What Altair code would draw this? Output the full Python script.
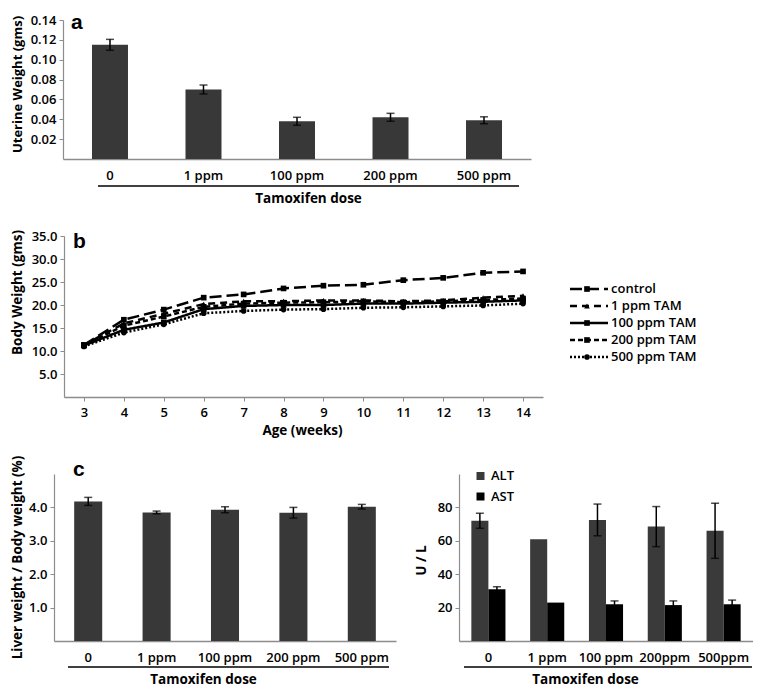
import altair as alt
import pandas as pd

# ---------------- data ----------------
doses = ["0", "1 ppm", "100 ppm", "200 ppm", "500 ppm"]
uterine_weight = [0.115, 0.070, 0.038, 0.042, 0.039]
uterine_err = [0.0055, 0.0045, 0.004, 0.004, 0.0035]

weeks = [3, 4, 5, 6, 7, 8, 9, 10, 11, 12, 13, 14]
series_names = ["control", "1 ppm TAM", "100 ppm TAM", "200 ppm TAM", "500 ppm TAM"]
bw_control = [11.3, 16.8, 19.0, 21.6, 22.3, 23.6, 24.2, 24.4, 25.4, 25.9, 27.0, 27.3]
bw_1ppm = [11.3, 16.0, 18.1, 20.2, 20.8, 20.8, 21.0, 21.0, 20.8, 21.0, 21.6, 22.0]
bw_100ppm = [11.2, 14.6, 16.2, 19.1, 19.8, 20.0, 20.0, 20.3, 20.3, 20.5, 20.7, 21.0]
bw_200ppm = [11.3, 15.5, 17.5, 19.6, 20.3, 20.5, 20.6, 20.8, 20.6, 20.8, 21.1, 21.4]
bw_500ppm = [11.0, 14.0, 15.8, 18.2, 18.7, 19.0, 19.1, 19.4, 19.5, 19.7, 19.9, 20.3]
bw_series = [bw_control, bw_1ppm, bw_100ppm, bw_200ppm, bw_500ppm]

liver_ratio = [4.18, 3.85, 3.93, 3.84, 4.02]
liver_err = [0.12, 0.04, 0.09, 0.16, 0.07]

doses_enzyme = ["0", "1 ppm", "100 ppm", "200ppm", "500ppm"]
enzymes = ["ALT", "AST"]
alt_values = [72, 61, 72.5, 68.5, 66]
alt_err = [4.5, 0, 9.5, 12, 16.5]
ast_values = [31, 23, 22, 21.5, 22]
ast_err = [1.5, 0, 2, 2.5, 2.5]

# ---------------- style ----------------
FONT = "Open Sans"
LABEL_SIZE = 13
TITLE_SIZE = 13.5
AXIS_GRAY = "#8c8c8c"
BAR = "#383838"


def y_axis(values, fmt, title, offset, title_x, title_y, title_size=TITLE_SIZE):
    return alt.Axis(values=values, format=fmt, title=title, offset=offset, grid=False,
                    domainColor=AXIS_GRAY, domainWidth=1.2, tickColor=AXIS_GRAY, tickSize=4,
                    labelPadding=3, labelFontSize=LABEL_SIZE, labelFontWeight=600,
                    labelColor="black", labelOverlap=False,
                    titleFontSize=title_size, titleFontWeight="bold", titleColor="black",
                    titleAngle=270, titleBaseline="bottom", titleAlign="center",
                    titleX=title_x, titleY=title_y)


def x_band_axis(title, title_x, title_y, label_padding):
    return alt.Axis(title=title, labelAngle=0, ticks=False, tickSize=0, grid=False,
                    domainColor=AXIS_GRAY, domainWidth=1.5, labelPadding=label_padding,
                    labelFontSize=LABEL_SIZE, labelFontWeight=600, labelColor="black",
                    labelOverlap=False,
                    titleFontSize=TITLE_SIZE, titleFontWeight="bold", titleColor="black",
                    titleX=title_x, titleY=title_y, titleBaseline="middle", titleAlign="center")


def panel_label(letter, x, y):
    return alt.Chart(pd.DataFrame({"t": [letter]})).mark_text(
        font="Liberation Sans", fontSize=21, fontWeight="bold", align="left",
        baseline="alphabetic", color="black").encode(
        text="t:N", x=alt.value(x), y=alt.value(y))


def group_rule(x1, x2, y):
    return alt.Chart(pd.DataFrame({"k": [0]})).mark_rule(color="black", strokeWidth=1.3).encode(
        x=alt.value(x1), x2=alt.value(x2), y=alt.value(y))


# ---------------- panel a ----------------
A_W, A_H = 477, 139
dfA = pd.DataFrame({"dose": doses, "value": uterine_weight, "err": uterine_err})
dfA["lo"] = dfA["value"] - dfA["err"]
dfA["hi"] = dfA["value"] + dfA["err"]
xA_scale = alt.Scale(domain=doses, range=[9, 477], paddingInner=0.615, paddingOuter=0.31)
yA_scale = alt.Scale(domain=[0, 0.14], nice=False)
xA_axis = x_band_axis("Tamoxifen dose", 254, 39, 10)
yA_axis = y_axis([0.02, 0.04, 0.06, 0.08, 0.10, 0.12, 0.14], ".2f",
                 "Uterine Weight (gms)", -9, -39, 64, title_size=13)

barsA = alt.Chart(dfA).mark_bar(color=BAR).encode(
    x=alt.X("dose:N", sort=doses, scale=xA_scale, axis=xA_axis),
    y=alt.Y("value:Q", scale=yA_scale, axis=yA_axis))
errA = alt.Chart(dfA).mark_rule(color="black", strokeWidth=1.5).encode(
    x=alt.X("dose:N", sort=doses, scale=xA_scale, axis=xA_axis),
    y=alt.Y("lo:Q", scale=yA_scale, axis=yA_axis), y2="hi:Q")
capsA = alt.Chart(dfA).transform_fold(["lo", "hi"], as_=["end", "v"]).mark_tick(
    color="black", thickness=1.5, size=8, orient="horizontal").encode(
    x=alt.X("dose:N", sort=doses, scale=xA_scale, axis=xA_axis),
    y=alt.Y("v:Q", scale=yA_scale, axis=yA_axis))
panelA = alt.layer(barsA, errA, capsA, panel_label("a", 17, 9),
                   group_rule(44, 465, A_H + 27)).properties(width=A_W, height=A_H)

# ---------------- panel b ----------------
B_W, B_H = 489, 161
rows = []
for name, vals in zip(series_names, bw_series):
    for w, v in zip(weeks, vals):
        rows.append({"week": w, "series": name, "bw": v})
dfB = pd.DataFrame(rows)
dfL = pd.DataFrame({"series": series_names})

dash_scale = alt.Scale(domain=series_names, range=[[12, 5], [7, 5], [1, 0], [5, 3], [2, 2]])
shape_scale = alt.Scale(domain=series_names,
                        range=["square", "triangle-up", "square", "square", "circle"])
xB_scale = alt.Scale(domain=[2.5, 14.5], range=[10, 489], nice=False, zero=False)
yB_scale = alt.Scale(domain=[0, 35], nice=False)
xB_axis = alt.Axis(values=weeks, format="d", title="Age (weeks)", grid=False,
                   domainColor=AXIS_GRAY, domainWidth=1.5, tickColor=AXIS_GRAY, tickSize=4,
                   labelPadding=5, labelFontSize=LABEL_SIZE, labelFontWeight=600,
                   labelColor="black", labelOverlap=False,
                   titleFontSize=TITLE_SIZE, titleFontWeight="bold", titleColor="black",
                   titleX=248, titleY=33, titleBaseline="middle", titleAlign="center")

linesB = alt.Chart(dfB).mark_line(color="black", strokeWidth=2.5).encode(
    x=alt.X("week:Q", scale=xB_scale, axis=xB_axis),
    y=alt.Y("bw:Q", scale=yB_scale,
            axis=y_axis([5, 10, 15, 20, 25, 30, 35], ".1f", "Body Weight (gms)", -10, -39.5, 56)),
    strokeDash=alt.StrokeDash("series:N", scale=dash_scale, legend=None),
    detail="series:N")
ptsB = alt.Chart(dfB).mark_point(filled=True, color="black", opacity=1, size=32).encode(
    x=alt.X("week:Q", scale=xB_scale, axis=xB_axis),
    y=alt.Y("bw:Q", scale=yB_scale, axis=None),
    shape=alt.Shape("series:N", scale=shape_scale, legend=None))

yL = alt.Y("series:N", sort=series_names,
           scale=alt.Scale(type="point", domain=series_names, range=[53, 121], padding=0),
           axis=None)
legRule = alt.Chart(dfL).mark_rule(color="black", strokeWidth=2.5).encode(
    x=alt.value(516), x2=alt.value(554), y=yL,
    strokeDash=alt.StrokeDash("series:N", scale=dash_scale, legend=None))
legPt = alt.Chart(dfL).mark_point(filled=True, color="black", opacity=1, size=32).encode(
    x=alt.value(533), y=yL, shape=alt.Shape("series:N", scale=shape_scale, legend=None))
legTxt = alt.Chart(dfL).mark_text(align="left", baseline="middle", fontSize=13,
                                  fontWeight=600, color="black", font=FONT).encode(
    x=alt.value(557), y=yL, text="series:N")

panelB = alt.layer(linesB, ptsB, legRule, legPt, legTxt, panel_label("b", 19, 12)).resolve_scale(
    y="independent").properties(width=B_W, height=B_H)

# ---------------- panel c (left) ----------------
C_H = 167
C1_W = 342
dfC1 = pd.DataFrame({"dose": doses, "value": liver_ratio, "err": liver_err})
dfC1["lo"] = dfC1["value"] - dfC1["err"]
dfC1["hi"] = dfC1["value"] + dfC1["err"]
xC1_scale = alt.Scale(domain=doses, paddingInner=0.59, paddingOuter=0.295)
yC1_scale = alt.Scale(domain=[0, 5], nice=False)
xC1_axis = x_band_axis("Tamoxifen dose", 149, 38, 10)
yC1_axis = y_axis([1, 2, 3, 4], ".1f", "Liver weight / Body weight (%)", 0, -29.5, 83)

barsC1 = alt.Chart(dfC1).mark_bar(color=BAR).encode(
    x=alt.X("dose:N", sort=doses, scale=xC1_scale, axis=xC1_axis),
    y=alt.Y("value:Q", scale=yC1_scale, axis=yC1_axis))
errC1 = alt.Chart(dfC1).mark_rule(color="black", strokeWidth=1.5).encode(
    x=alt.X("dose:N", sort=doses, scale=xC1_scale, axis=xC1_axis),
    y=alt.Y("lo:Q", scale=yC1_scale, axis=yC1_axis), y2="hi:Q")
capsC1 = alt.Chart(dfC1).transform_fold(["lo", "hi"], as_=["end", "v"]).mark_tick(
    color="black", thickness=1.5, size=8, orient="horizontal").encode(
    x=alt.X("dose:N", sort=doses, scale=xC1_scale, axis=xC1_axis),
    y=alt.Y("v:Q", scale=yC1_scale, axis=yC1_axis))
panelC1 = alt.layer(barsC1, errC1, capsC1, panel_label("c", 19, 2),
                    group_rule(14, 335, C_H + 26)).properties(width=C1_W, height=C_H)

# ---------------- panel c (right) ----------------
C2_W = 294
dfC2 = pd.DataFrame({
    "dose": doses_enzyme + doses_enzyme,
    "enzyme": [enzymes[0]] * len(doses_enzyme) + [enzymes[1]] * len(doses_enzyme),
    "value": alt_values + ast_values,
    "err": alt_err + ast_err,
})
dfC2["lo"] = dfC2["value"] - dfC2["err"]
dfC2["hi"] = dfC2["value"] + dfC2["err"]
xC2_scale = alt.Scale(domain=doses_enzyme, paddingInner=0.42, paddingOuter=0.21)
xoff_scale = alt.Scale(domain=enzymes, paddingInner=0, paddingOuter=0)
yC2_scale = alt.Scale(domain=[0, 100], nice=False)
xC2_axis = x_band_axis("Tamoxifen dose", 126, 38, 10)
yC2_axis = y_axis([20, 40, 60, 80], "d", "U / L", 0, -31, 86)

barsC2 = alt.Chart(dfC2).mark_bar().encode(
    x=alt.X("dose:N", sort=doses_enzyme, scale=xC2_scale, axis=xC2_axis),
    xOffset=alt.XOffset("enzyme:N", scale=xoff_scale),
    y=alt.Y("value:Q", scale=yC2_scale, axis=yC2_axis),
    color=alt.Color("enzyme:N", scale=alt.Scale(domain=enzymes, range=["#3a3a3a", "#000000"]),
                    legend=alt.Legend(title=None, orient="none", legendX=420, legendY=449.5,
                                      symbolType="square", symbolSize=64, symbolStrokeWidth=0,
                                      labelFontSize=13, labelFontWeight=600, labelColor="black",
                                      labelOffset=4, rowPadding=6.5, padding=0)))
errC2 = alt.Chart(dfC2).transform_filter("datum.err > 0").mark_rule(
    color="black", strokeWidth=1.5).encode(
    x=alt.X("dose:N", sort=doses_enzyme, scale=xC2_scale, axis=xC2_axis),
    xOffset=alt.XOffset("enzyme:N", scale=xoff_scale),
    y=alt.Y("lo:Q", scale=yC2_scale, axis=yC2_axis), y2="hi:Q")
capsC2 = alt.Chart(dfC2).transform_filter("datum.err > 0").transform_fold(
    ["lo", "hi"], as_=["end", "v"]).mark_tick(
    color="black", thickness=1.5, size=8, orient="horizontal").encode(
    x=alt.X("dose:N", sort=doses_enzyme, scale=xC2_scale, axis=xC2_axis),
    xOffset=alt.XOffset("enzyme:N", scale=xoff_scale),
    y=alt.Y("v:Q", scale=yC2_scale, axis=yC2_axis))
panelC2 = alt.layer(barsC2, errC2, capsC2, group_rule(5, 293, C_H + 26)).properties(
    width=C2_W, height=C_H)

row_c = alt.hconcat(panelC1, panelC2, spacing=63, bounds="flush")

chart = alt.vconcat(panelA, panelB, row_c, spacing=77, bounds="flush").properties(
    padding={"left": 2, "top": 4, "right": 0, "bottom": 0}
).configure(font=FONT).configure_view(stroke=None)

chart.save("out.html", embed_options={"renderer": "svg", "actions": False})
